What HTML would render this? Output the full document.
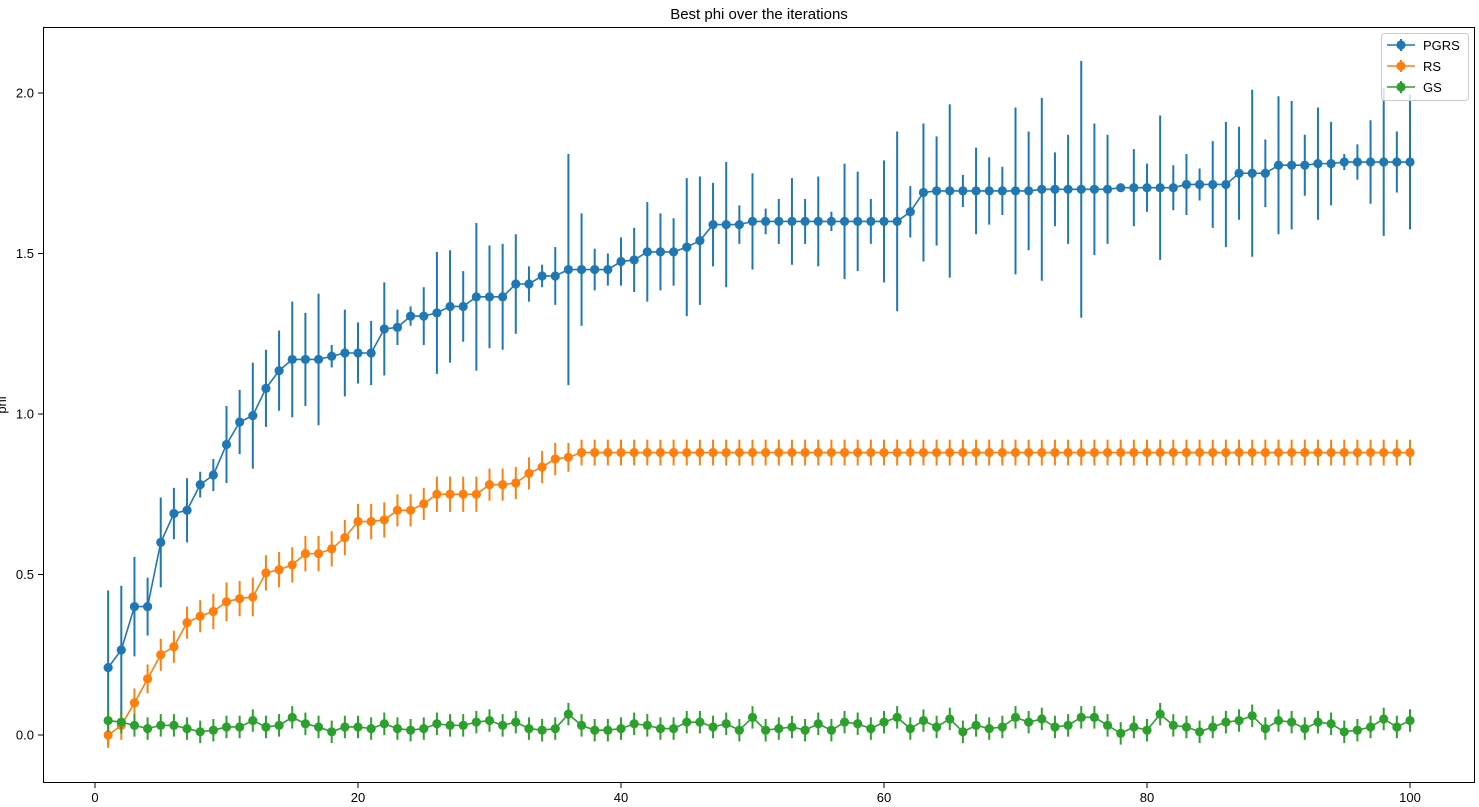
<!DOCTYPE html>
<html><head><meta charset="utf-8"><style>
html,body{margin:0;padding:0;background:#fff;}
svg{display:block;font-family:"Liberation Sans","DejaVu Sans",sans-serif;}
</style></head><body>
<svg id="chart" width="1479" height="807" viewBox="0 0 1479 807" xmlns="http://www.w3.org/2000/svg">
<rect x="0" y="0" width="1479" height="807" fill="#fff"/>
<text x="759" y="19" text-anchor="middle" font-size="15">Best phi over the iterations</text>
<text transform="translate(6,405) rotate(-90)" text-anchor="middle" font-size="13">phi</text>
<g id="marks"></g>
<rect x="43.5" y="27.5" width="1431" height="755" fill="none" stroke="#000" stroke-width="1"/>
<g id="axes"></g>
<g id="legend"></g>
</svg>
<script>
const iterations = Array.from({length:100},(_, i)=>i+1);
const pgrsValues = [0.21,0.265,0.40,0.40,0.60,0.69,0.70,0.78,0.81,0.905,0.975,0.995,1.08,1.135,1.17,1.17,1.17,1.18,1.19,1.19,1.19,1.265,1.27,1.305,1.305,1.315,1.335,1.335,1.365,1.365,1.365,1.405,1.405,1.43,1.43,1.45,1.45,1.45,1.45,1.475,1.48,1.505,1.505,1.505,1.52,1.54,1.59,1.59,1.59,1.60,1.60,1.60,1.60,1.60,1.60,1.60,1.60,1.60,1.60,1.60,1.60,1.63,1.69,1.695,1.695,1.695,1.695,1.695,1.695,1.695,1.695,1.70,1.70,1.70,1.70,1.70,1.70,1.705,1.705,1.705,1.705,1.705,1.715,1.715,1.715,1.715,1.75,1.75,1.75,1.775,1.775,1.775,1.78,1.78,1.785,1.785,1.785,1.785,1.785,1.785];
const pgrsErrors = [0.24,0.2,0.155,0.09,0.14,0.08,0.1,0.04,0.05,0.12,0.1,0.165,0.12,0.125,0.18,0.145,0.205,0.035,0.135,0.095,0.1,0.145,0.055,0.03,0.09,0.19,0.175,0.11,0.23,0.16,0.165,0.155,0.055,0.035,0.09,0.36,0.175,0.065,0.05,0.075,0.1,0.155,0.12,0.105,0.215,0.2,0.13,0.195,0.06,0.15,0.04,0.07,0.135,0.07,0.14,0.03,0.18,0.155,0.07,0.19,0.28,0.08,0.215,0.17,0.27,0.05,0.135,0.105,0.075,0.26,0.185,0.285,0.115,0.17,0.40,0.205,0.17,0.01,0.12,0.075,0.225,0.07,0.095,0.05,0.135,0.195,0.145,0.26,0.105,0.215,0.2,0.095,0.175,0.13,0.025,0.055,0.13,0.23,0.095,0.21];
const rsValues = [0.0,0.03,0.10,0.175,0.25,0.275,0.35,0.37,0.385,0.415,0.425,0.43,0.505,0.515,0.53,0.565,0.565,0.58,0.615,0.665,0.665,0.67,0.70,0.70,0.72,0.75,0.75,0.75,0.75,0.78,0.78,0.785,0.815,0.835,0.86,0.865].concat(Array(64).fill(0.88));
const rsErrors = [0.04,0.045,0.045,0.045,0.05,0.05,0.05,0.05,0.055,0.06,0.055,0.06,0.055,0.055,0.055,0.055,0.055,0.055,0.055,0.055,0.055,0.055,0.05,0.05,0.05,0.055,0.055,0.055,0.055,0.05,0.05,0.05,0.05,0.05,0.05,0.045].concat(Array(64).fill(0.04));
const gsValues = [0.045,0.04,0.03,0.02,0.03,0.03,0.02,0.01,0.015,0.025,0.025,0.045,0.025,0.03,0.055,0.035,0.025,0.01,0.025,0.025,0.02,0.035,0.02,0.015,0.02,0.035,0.03,0.03,0.04,0.045,0.03,0.04,0.02,0.015,0.02,0.065,0.03,0.015,0.015,0.02,0.035,0.03,0.02,0.02,0.04,0.04,0.025,0.035,0.015,0.055,0.015,0.02,0.025,0.015,0.035,0.015,0.04,0.035,0.02,0.04,0.055,0.02,0.045,0.025,0.05,0.01,0.03,0.02,0.025,0.055,0.04,0.05,0.025,0.03,0.055,0.055,0.03,0.005,0.025,0.015,0.065,0.03,0.025,0.01,0.025,0.04,0.045,0.06,0.02,0.045,0.04,0.02,0.04,0.035,0.01,0.015,0.025,0.05,0.025,0.045];
const gsErrors = Array(100).fill(0.035);
const xTicks = [0,20,40,60,80,100];
const yTicks = [0.0,0.5,1.0,1.5,2.0];
const seriesNames = ["PGRS","RS","GS"];
const seriesColors = ["#1f77b4","#ff7f0e","#2ca02c"];

const NS="http://www.w3.org/2000/svg";
function xs(v){return 95 + v*13.15;}
function ys(v){return 735 - v*321;}
function mk(tag,attrs,parent){const e=document.createElementNS(NS,tag);for(const k in attrs)e.setAttribute(k,attrs[k]);parent.appendChild(e);return e;}
const marks=document.getElementById('marks');
const all=[[pgrsValues,pgrsErrors],[rsValues,rsErrors],[gsValues,gsErrors]];
all.forEach(([vals,errs],s)=>{
  const c=seriesColors[s];
  const g=mk('g',{},marks);
  
  
  vals.forEach((v,i)=>{
    const eb=mk('line',{x1:xs(iterations[i]),x2:xs(iterations[i]),y1:ys(v-errs[i]),y2:ys(v+errs[i]),stroke:c,'stroke-width':2},g);
    
    
  });
  const pl=mk('polyline',{points:vals.map((v,i)=>xs(iterations[i])+','+ys(v)).join(' '),fill:'none',stroke:c,'stroke-width':1.6},g);
  
  
  vals.forEach((v,i)=>{
    const p=mk('circle',{cx:xs(iterations[i]),cy:ys(v),r:4.6,fill:c},g);
    
    
  });
});
const axes=document.getElementById('axes');
xTicks.forEach(t=>{
  const l=mk('line',{x1:xs(t),x2:xs(t),y1:783,y2:788,stroke:'#000'},axes);
  
  
  const tx=mk('text',{x:xs(t),y:802,'text-anchor':'middle','font-size':13},axes);
  tx.textContent=t;
  
  
});
yTicks.forEach(t=>{
  const l=mk('line',{x1:38,x2:43,y1:ys(t),y2:ys(t),stroke:'#000'},axes);
  
  
  const tx=mk('text',{x:34,y:ys(t)+4.5,'text-anchor':'end','font-size':13},axes);
  tx.textContent=t.toFixed(1);
  
  
});
const leg=document.getElementById('legend');
mk('rect',{x:1381.5,y:33.5,width:87,height:67,rx:3,fill:'#fff','fill-opacity':0.8,stroke:'#ccc'},leg);
seriesNames.forEach((n,i)=>{
  const y=45+i*21;
  const g=mk('g',{},leg);
  
  
  mk('line',{x1:1387,x2:1415,y1:y,y2:y,stroke:seriesColors[i],'stroke-width':1.6},g);
  mk('line',{x1:1401,x2:1401,y1:y-6,y2:y+6,stroke:seriesColors[i],'stroke-width':2},g);
  mk('circle',{cx:1401,cy:y,r:4.6,fill:seriesColors[i]},g);
  const t=mk('text',{x:1423,y:y+5,'font-size':13},g);
  t.textContent=n;
});
</script>
</body></html>
